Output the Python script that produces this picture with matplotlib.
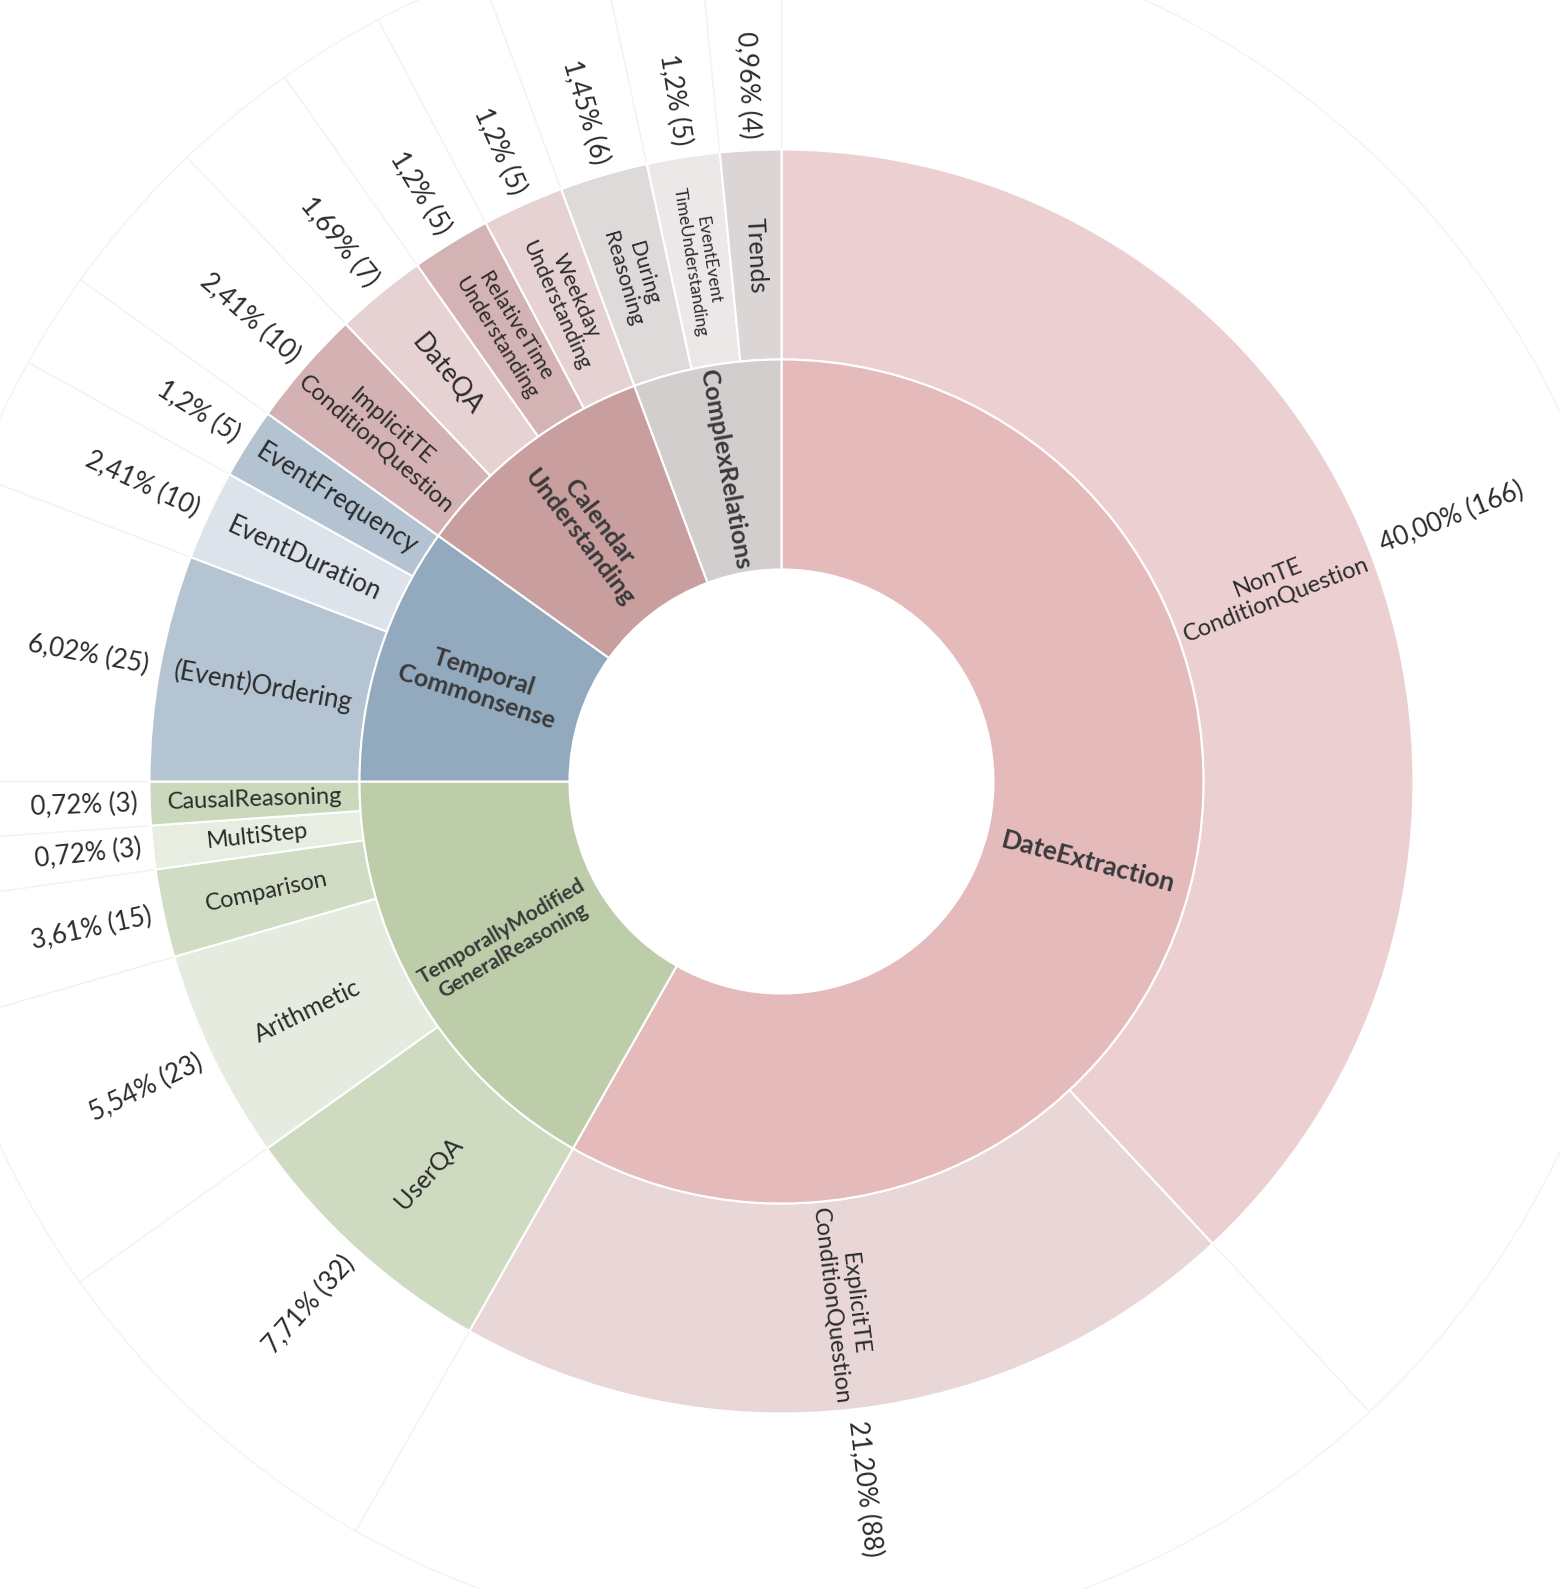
import numpy as np
import matplotlib
matplotlib.use("Agg")
import matplotlib.pyplot as plt

plt.rcParams['font.family'] = ['Lato', 'DejaVu Sans']

# ---- data (clockwise from 12 o'clock) ----
group_names = ["DateExtraction", "TemporallyModified\nGeneralReasoning",
               "Temporal\nCommonsense", "Calendar\nUnderstanding", "ComplexRelations"]

leaf_names = ["NonTE\nConditionQuestion", "ExplicitTE\nConditionQuestion",
              "UserQA", "Arithmetic", "Comparison", "MultiStep", "CausalReasoning",
              "(Event)Ordering", "EventDuration", "EventFrequency",
              "ImplicitTE\nConditionQuestion", "DateQA", "RelativeTime\nUnderstanding",
              "Weekday\nUnderstanding",
              "During\nReasoning", "EventEvent\nTimeUnderstanding", "Trends"]
leaf_group = [0, 0, 1, 1, 1, 1, 1, 2, 2, 2, 3, 3, 3, 3, 4, 4, 4]
leaf_counts = [166, 88, 32, 23, 15, 3, 3, 25, 10, 5, 10, 7, 5, 5, 6, 5, 4]
leaf_pcts = ["40,00%", "21,20%", "7,71%", "5,54%", "3,61%", "0,72%", "0,72%",
             "6,02%", "2,41%", "1,2%", "2,41%", "1,69%", "1,2%", "1,2%",
             "1,45%", "1,2%", "0,96%"]
# angular size of each segment as drawn in the chart (degrees)
leaf_sizes = [137.0, 72.6, 24.9, 19.4, 8.1, 4.0, 4.0, 20.8, 8.3, 6.5,
              10.8, 8.4, 7.3, 7.5, 8.1, 6.7, 5.6]

# ---- styles ----
group_colors = ['#e4babb', '#bdcdaa', '#93a9bd', '#c99e9e', '#d3cece']
leaf_colors = ['#ecd0d1', '#e9d6d7', '#cfdbc1', '#e5ebdf', '#d0dcc4', '#e7ede0',
               '#cad8bc', '#b5c4d3', '#dce3eb', '#b3c3d2', '#d4b1b2', '#e7d2d3',
               '#d4b3b4', '#e6d2d3', '#dfdada', '#ece8e8', '#dcd5d5']
leaf_fs = [17, 17, 18, 18, 17, 17, 17, 18.5, 18.5, 18.5, 17, 19, 15.5, 15.5,
           15.5, 12.5, 18]
group_fs = [19, 15, 18, 18, 18]
txt_col = '#2b2b2b'

W, H = 1560, 1589
cx, cy = 781.5, 781.5
RA = 1000
r0, r1, r2, r3 = 212, 422, 632, 862

fig = plt.figure(figsize=(W / 100, H / 100), dpi=100)
ax = fig.add_axes([(cx - RA) / W, (H - cy - RA) / H, 2 * RA / W, 2 * RA / H],
                  projection='polar')
ax.set_theta_zero_location('N')
ax.set_theta_direction(-1)
ax.set_ylim(0, RA)
ax.axis('off')

sizes = np.array(leaf_sizes, float)
sizes = sizes / sizes.sum() * 2 * np.pi
starts = np.concatenate([[0], np.cumsum(sizes)[:-1]])
mids = starts + sizes / 2

g_sizes = np.bincount(leaf_group, weights=sizes)
g_starts = np.concatenate([[0], np.cumsum(g_sizes)[:-1]])
g_mids = g_starts + g_sizes / 2

# faint outer ring
ax.bar(mids, r3 - r2, width=sizes, bottom=r2, color='white',
       edgecolor='#f3f3f3', linewidth=1, zorder=1)
# leaves
ax.bar(mids, r2 - r1, width=sizes, bottom=r1, color=leaf_colors,
       edgecolor='white', linewidth=1.5, zorder=2)
# groups
ax.bar(g_mids, r1 - r0, width=g_sizes, bottom=r0, color=group_colors,
       edgecolor='white', linewidth=1.5, zorder=2)


def radial_rot(theta):
    deg = np.degrees(theta) % 360
    rot = 90 - deg
    left = deg > 180
    if left:
        rot += 180
    return rot, left


for th, name, fs in zip(g_mids, group_names, group_fs):
    rot, _ = radial_rot(th)
    ax.text(th, (r0 + r1) / 2, name, rotation=rot, rotation_mode='anchor',
            ha='center', va='center', multialignment='center', fontsize=fs,
            fontweight='bold', color='#3a3a3a', linespacing=1.12, zorder=5)

for th, name, fs in zip(mids, leaf_names, leaf_fs):
    rot, _ = radial_rot(th)
    ax.text(th, (r1 + r2) / 2, name, rotation=rot, rotation_mode='anchor',
            ha='center', va='center', multialignment='center', fontsize=fs,
            color=txt_col, linespacing=1.12, zorder=5)

for th, pct, cnt in zip(mids, leaf_pcts, leaf_counts):
    rot, left = radial_rot(th)
    ax.text(th, r2 + 12, f"{pct} ({cnt})", rotation=rot, rotation_mode='anchor',
            ha='right' if left else 'left', va='center', fontsize=18.7,
            color=txt_col, zorder=5)

fig.savefig('out.png', dpi=100, facecolor='white')
